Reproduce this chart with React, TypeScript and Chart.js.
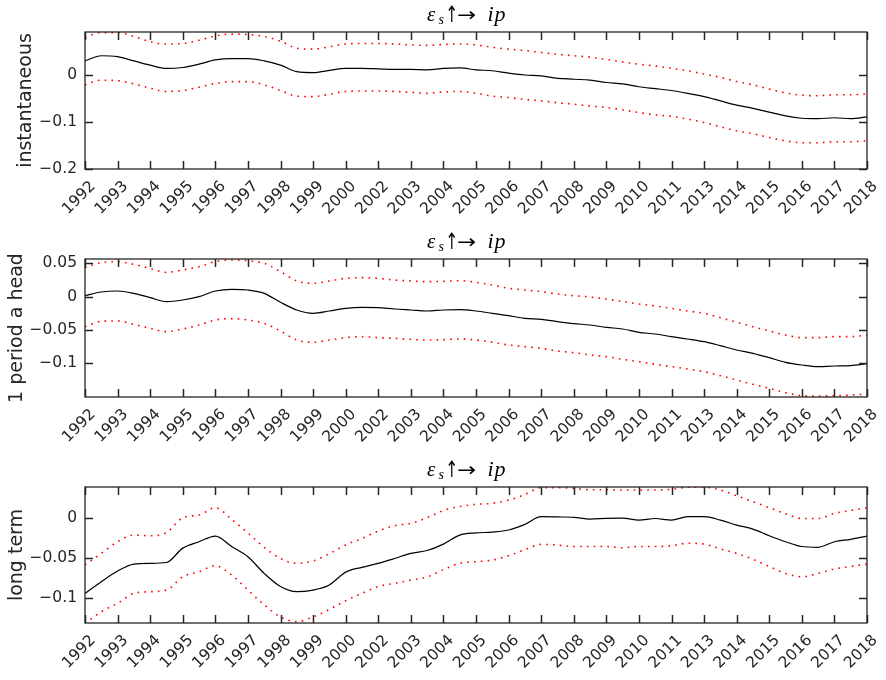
import React, { useEffect, useRef } from 'react';
import { Chart, registerables } from 'chart.js';

Chart.register(...registerables);

const yearLabels = ['1992', '1993', '1994', '1995', '1996', '1997', '1998', '1999', '2000', '2002', '2003', '2004', '2005', '2006', '2007', '2008', '2009', '2010', '2011', '2013', '2014', '2015', '2016', '2017', '2018'];

// sample positions in tick units (half-tick spacing)
const samplePos = [0, 0.5, 1, 1.5, 2, 2.5, 3, 3.5, 4, 4.5, 5, 5.5, 6, 6.5, 7, 7.5, 8, 8.5, 9, 9.5, 10, 10.5, 11, 11.5, 12, 12.5, 13, 13.5, 14, 14.5, 15, 15.5, 16, 16.5, 17, 17.5, 18, 18.5, 19, 19.5, 20, 20.5, 21, 21.5, 22, 22.5, 23, 23.5, 24];

// Panel 1: instantaneous
const instMid = [0.030, 0.041, 0.039, 0.030, 0.021, 0.014, 0.016, 0.023, 0.032, 0.035, 0.035, 0.030, 0.021, 0.007, 0.005, 0.010, 0.014, 0.014, 0.013, 0.012, 0.012, 0.011, 0.014, 0.015, 0.011, 0.009, 0.004, 0.000, -0.002, -0.007, -0.009, -0.011, -0.016, -0.019, -0.025, -0.029, -0.033, -0.039, -0.046, -0.055, -0.064, -0.071, -0.079, -0.087, -0.092, -0.093, -0.091, -0.093, -0.089];
const instHi = [0.080, 0.090, 0.090, 0.082, 0.071, 0.066, 0.067, 0.074, 0.083, 0.087, 0.086, 0.082, 0.072, 0.057, 0.055, 0.060, 0.066, 0.067, 0.067, 0.066, 0.064, 0.063, 0.065, 0.066, 0.064, 0.059, 0.055, 0.052, 0.048, 0.044, 0.041, 0.038, 0.033, 0.028, 0.023, 0.019, 0.014, 0.009, 0.002, -0.005, -0.014, -0.021, -0.030, -0.038, -0.043, -0.044, -0.042, -0.042, -0.040];
const instLo = [-0.021, -0.011, -0.012, -0.019, -0.028, -0.035, -0.033, -0.026, -0.018, -0.014, -0.014, -0.021, -0.033, -0.045, -0.046, -0.041, -0.035, -0.034, -0.034, -0.035, -0.037, -0.039, -0.036, -0.035, -0.039, -0.045, -0.048, -0.052, -0.055, -0.059, -0.062, -0.066, -0.069, -0.074, -0.080, -0.085, -0.088, -0.094, -0.101, -0.110, -0.119, -0.125, -0.133, -0.140, -0.144, -0.144, -0.142, -0.142, -0.140];

// Panel 2: 1 period a head
const aheadMid = [0.0015, 0.007, 0.0085, 0.005, -0.0015, -0.0075, -0.005, 0.0, 0.0085, 0.011, 0.010, 0.005, -0.0085, -0.020, -0.025, -0.0215, -0.0175, -0.016, -0.0165, -0.0185, -0.020, -0.0215, -0.020, -0.0195, -0.0215, -0.025, -0.0285, -0.0325, -0.034, -0.0375, -0.0405, -0.0425, -0.046, -0.0485, -0.0535, -0.056, -0.060, -0.0635, -0.0675, -0.0735, -0.080, -0.085, -0.0915, -0.0985, -0.1025, -0.105, -0.104, -0.1035, -0.1005];
const aheadHi = [0.0435, 0.051, 0.0525, 0.0485, 0.0425, 0.0365, 0.040, 0.045, 0.0525, 0.055, 0.054, 0.050, 0.0375, 0.0235, 0.020, 0.0235, 0.0275, 0.0285, 0.0275, 0.025, 0.0235, 0.0225, 0.023, 0.024, 0.0215, 0.0175, 0.0125, 0.010, 0.0075, 0.004, 0.0015, -0.0005, -0.0035, -0.0075, -0.011, -0.014, -0.0175, -0.0215, -0.025, -0.0315, -0.0385, -0.045, -0.0515, -0.0575, -0.0615, -0.0615, -0.060, -0.060, -0.0575];
const aheadLo = [-0.045, -0.037, -0.0365, -0.0415, -0.0475, -0.0525, -0.0485, -0.0425, -0.035, -0.033, -0.035, -0.040, -0.0515, -0.065, -0.0685, -0.065, -0.0615, -0.060, -0.0615, -0.0625, -0.064, -0.065, -0.0645, -0.0635, -0.065, -0.0685, -0.0725, -0.075, -0.0775, -0.0815, -0.084, -0.0875, -0.090, -0.094, -0.0975, -0.1015, -0.105, -0.1085, -0.1125, -0.1185, -0.125, -0.1315, -0.1375, -0.144, -0.1485, -0.149, -0.1485, -0.1475, -0.146];

// Panel 3: long term
const longMid = [-0.0946, -0.080, -0.0667, -0.058, -0.057, -0.056, -0.038, -0.030, -0.023, -0.036, -0.0487, -0.0696, -0.086, -0.0925, -0.0904, -0.084, -0.068, -0.062, -0.057, -0.051, -0.0446, -0.041, -0.033, -0.0217, -0.019, -0.018, -0.0154, -0.0083, 0.0013, 0.001, 0.0005, -0.0017, -0.0008, -0.0005, -0.003, -0.001, -0.003, 0.0013, 0.0013, -0.003, -0.0092, -0.0142, -0.0225, -0.030, -0.036, -0.037, -0.030, -0.027, -0.0229];
const longHi = [-0.059, -0.0446, -0.030, -0.0217, -0.0225, -0.0187, 0.0, 0.0033, 0.0125, -0.002, -0.019, -0.037, -0.051, -0.057, -0.054, -0.045, -0.034, -0.026, -0.0167, -0.010, -0.007, 0.000, 0.009, 0.014, 0.0167, 0.018, 0.022, 0.029, 0.0375, 0.0375, 0.0367, 0.035, 0.035, 0.0346, 0.0346, 0.0346, 0.0355, 0.038, 0.038, 0.0346, 0.0275, 0.020, 0.0125, 0.005, -0.001, -0.001, 0.0054, 0.009, 0.0125];
const longLo = [-0.132, -0.1175, -0.107, -0.0946, -0.0925, -0.0904, -0.0738, -0.0675, -0.060, -0.0717, -0.0904, -0.109, -0.124, -0.130, -0.124, -0.1146, -0.1037, -0.0946, -0.086, -0.082, -0.078, -0.074, -0.065, -0.057, -0.055, -0.053, -0.0475, -0.040, -0.0333, -0.0342, -0.036, -0.036, -0.036, -0.0375, -0.036, -0.036, -0.035, -0.032, -0.033, -0.039, -0.0446, -0.052, -0.061, -0.0696, -0.0738, -0.0696, -0.064, -0.061, -0.058];

const instTicks = [-0.2, -0.1, 0];
const aheadTicks = [-0.1, -0.05, 0, 0.05];
const longTicks = [-0.1, -0.05, 0];

const SANS = '"DejaVu Sans", Verdana, sans-serif';
const SERIF = '"Liberation Serif", "Times New Roman", serif';
const ARROWS = '"DejaVu Sans", sans-serif';
const AXIS_COLOR = '#262626';
const TICK_FONT = `15.5px ${SANS}`;

function fmt(v: number): string {
  if (Math.abs(v) < 1e-12) return '0';
  return (v < 0 ? '\u2212' : '') + String(Math.abs(v));
}

type PanelProps = {
  top: number;
  height: number;
  padTop: number;
  xAxisH: number;
  yMin: number;
  yMax: number;
  yTicks: number[];
  mid: number[];
  hi: number[];
  lo: number[];
  ylabel: string;
};

const framePlugin = {
  id: 'matlabFrame',
  afterDraw(chart: any, _args: any, opts: any) {
    const { ctx, chartArea, scales } = chart;
    const { left, right, top, bottom } = chartArea;
    const xs = scales.x;
    const ys = scales.y;
    ctx.save();
    ctx.strokeStyle = AXIS_COLOR;
    ctx.lineWidth = 1.3;
    ctx.strokeRect(left, top, right - left, bottom - top);
    ctx.lineWidth = 1.5;
    const tl = 8;
    ctx.beginPath();
    xs.ticks.forEach((t: any) => {
      const px = Math.round(xs.getPixelForValue(t.value)) + 0.5;
      ctx.moveTo(px, bottom);
      ctx.lineTo(px, bottom - tl);
      ctx.moveTo(px, top);
      ctx.lineTo(px, top + tl);
    });
    ys.ticks.forEach((t: any) => {
      const py = Math.round(ys.getPixelForValue(t.value)) + 0.5;
      ctx.moveTo(left, py);
      ctx.lineTo(left + tl, py);
      ctx.moveTo(right, py);
      ctx.lineTo(right - tl, py);
    });
    ctx.stroke();

    // x tick labels, rotated 45 degrees
    ctx.fillStyle = AXIS_COLOR;
    ctx.font = TICK_FONT;
    ctx.textAlign = 'right';
    ctx.textBaseline = 'middle';
    xs.ticks.forEach((t: any) => {
      const px = xs.getPixelForValue(t.value);
      ctx.save();
      ctx.translate(px + 8, bottom + 15);
      ctx.rotate(-Math.PI / 4);
      ctx.fillText(yearLabels[Math.round(t.value)], 0, 0);
      ctx.restore();
    });

    // y tick labels
    let maxW = 0;
    ys.ticks.forEach((t: any) => {
      const py = ys.getPixelForValue(t.value);
      const s = fmt(t.value);
      maxW = Math.max(maxW, ctx.measureText(s).width);
      ctx.fillText(s, left - 8, py);
    });

    // y label, placed left of the widest tick label
    const baseX = left - 8 - maxW - 8;
    ctx.save();
    ctx.translate(baseX, (top + bottom) / 2);
    ctx.rotate(-Math.PI / 2);
    ctx.font = `19px ${SANS}`;
    ctx.textAlign = 'center';
    ctx.textBaseline = 'alphabetic';
    ctx.fillText(opts.ylabel, 0, 0);
    ctx.restore();

    // title: epsilon_s up-arrow right-arrow ip
    const cx = (left + right) / 2;
    const by = top - 11;
    ctx.fillStyle = '#000';
    ctx.textBaseline = 'alphabetic';
    ctx.textAlign = 'left';
    const x0 = cx - 49;
    ctx.font = `italic 21px ${SERIF}`;
    ctx.fillText('\u03B5', x0, by);
    ctx.font = `italic 14px ${SERIF}`;
    ctx.fillText('s', x0 + 11.5, by + 3);
    // up arrow, thin and tall
    ctx.textAlign = 'center';
    ctx.textBaseline = 'middle';
    ctx.save();
    ctx.translate(x0 + 25, by - 4.5);
    ctx.scale(0.85, 1.25);
    ctx.font = `18px ${ARROWS}`;
    ctx.fillText('\u2191', 0, 0);
    ctx.restore();
    // right arrow, long
    ctx.save();
    ctx.translate(x0 + 39.5, by - 5);
    ctx.scale(1.2, 1);
    ctx.font = `19px ${ARROWS}`;
    ctx.fillText('\u2192', 0, 0);
    ctx.restore();
    ctx.textAlign = 'left';
    ctx.textBaseline = 'alphabetic';
    ctx.font = `italic 22px ${SERIF}`;
    ctx.fillText('i', x0 + 60.5, by);
    ctx.fillText('p', x0 + 67.5, by);
    ctx.restore();
  },
};

function Panel(props: PanelProps) {
  const ref = useRef<HTMLCanvasElement | null>(null);
  useEffect(() => {
    const canvas = ref.current;
    if (!canvas) return;
    const toPts = (arr: number[]) => samplePos.map((x, i) => ({ x, y: arr[i] }));
    const redStyle = {
      borderColor: '#ff0000',
      borderWidth: 1.6,
      borderDash: [1.6, 5.2],
      pointRadius: 0,
      cubicInterpolationMode: 'monotone',
      fill: false,
    };
    const chart = new Chart(canvas, {
      type: 'line',
      data: {
        datasets: [
          { data: toPts(props.hi), ...redStyle },
          { data: toPts(props.lo), ...redStyle },
          {
            data: toPts(props.mid),
            borderColor: '#000000',
            borderWidth: 1.2,
            pointRadius: 0,
            cubicInterpolationMode: 'monotone',
            fill: false,
          },
        ],
      } as any,
      options: {
        animation: false,
        responsive: false,
        maintainAspectRatio: false,
        layout: { padding: { top: props.padTop, right: 19, left: 0, bottom: 0 } },
        plugins: {
          legend: { display: false },
          tooltip: { enabled: false },
          title: { display: false },
          matlabFrame: { ylabel: props.ylabel },
        } as any,
        scales: {
          x: {
            type: 'linear',
            min: 0,
            max: yearLabels.length - 1,
            grid: { display: false, drawTicks: false },
            border: { display: false },
            afterBuildTicks: (s: any) => {
              s.ticks = yearLabels.map((_, i) => ({ value: i }));
            },
            afterFit: (s: any) => {
              s.height = props.xAxisH;
            },
            ticks: { display: false },
          },
          y: {
            type: 'linear',
            min: props.yMin,
            max: props.yMax,
            grid: { display: false, drawTicks: false },
            border: { display: false },
            afterBuildTicks: (s: any) => {
              s.ticks = props.yTicks.map((v) => ({ value: v }));
            },
            afterFit: (s: any) => {
              s.width = 85;
            },
            ticks: { display: false },
          },
        },
      } as any,
      plugins: [framePlugin],
    });
    return () => chart.destroy();
  }, []);
  return (
    <canvas
      ref={ref}
      width={886}
      height={props.height}
      style={{ position: 'absolute', left: 0, top: props.top, width: 886, height: props.height }}
    />
  );
}

export default function App() {
  return (
    <div style={{ position: 'absolute', left: 0, top: 0, width: 886, height: 680, background: '#ffffff' }}>
      <Panel top={0} height={227} padTop={32} xAxisH={58} yMin={-0.2} yMax={0.0915} yTicks={instTicks}
        mid={instMid} hi={instHi} lo={instLo} ylabel="instantaneous" />
      <Panel top={227} height={226} padTop={32} xAxisH={56} yMin={-0.1505} yMax={0.0565} yTicks={aheadTicks}
        mid={aheadMid} hi={aheadHi} lo={aheadLo} ylabel="1 period a head" />
      <Panel top={453} height={227} padTop={34} xAxisH={57} yMin={-0.1316} yMax={0.0384} yTicks={longTicks}
        mid={longMid} hi={longHi} lo={longLo} ylabel="long term" />
    </div>
  );
}
